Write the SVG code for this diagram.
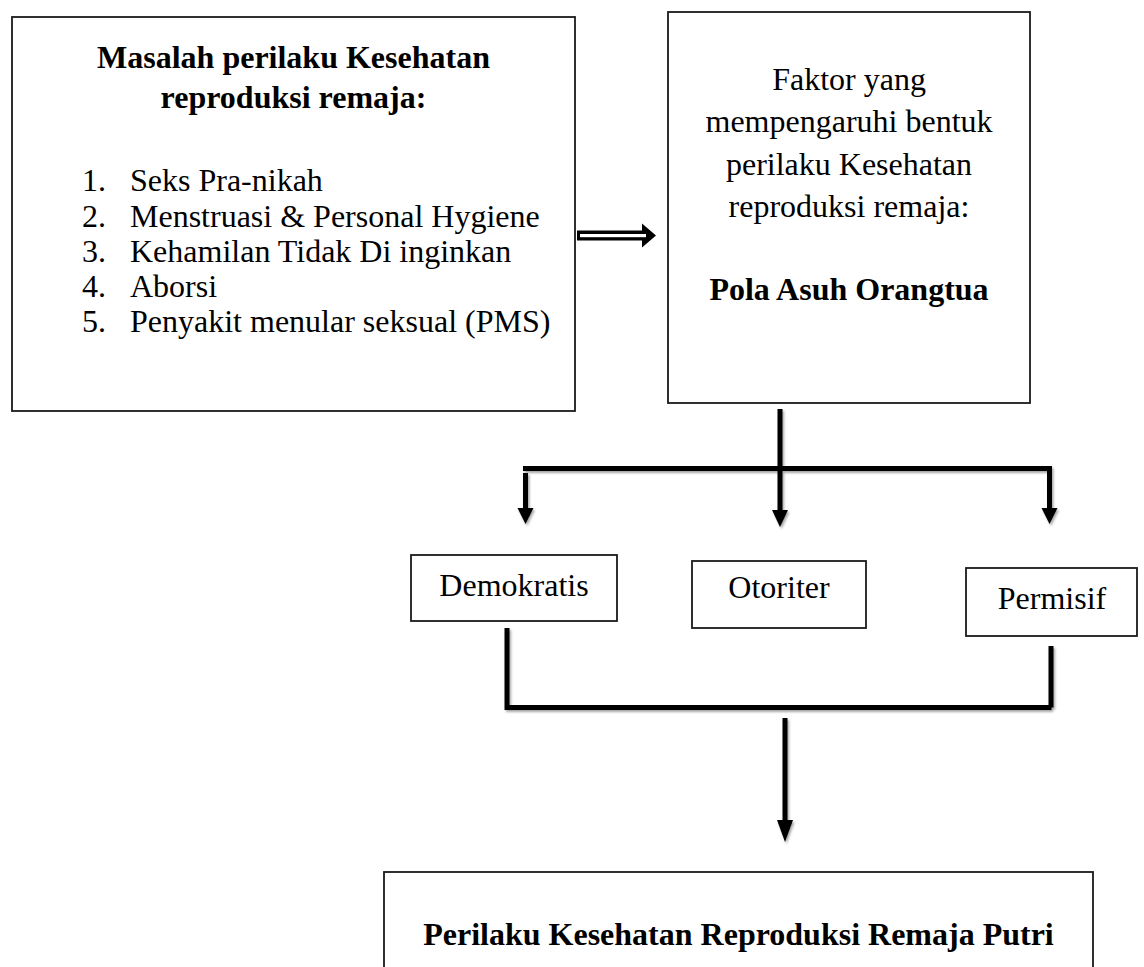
<svg xmlns="http://www.w3.org/2000/svg" width="1144" height="967" viewBox="0 0 1144 967">
<defs>
<filter id="sh" x="-20%" y="-20%" width="140%" height="140%">
<feDropShadow dx="1.5" dy="2" stdDeviation="1.2" flood-color="#000" flood-opacity="0.35"/>
</filter>
</defs>
<style>
.box{fill:#fff;stroke:#1a1a1a;stroke-width:1.8}
.t{font-family:"Liberation Serif","Times New Roman",serif;font-size:32px;fill:#000}
.b{font-weight:bold}
.c{text-anchor:middle}
.ln{stroke:#000;stroke-width:5;fill:none}
.hd{fill:#000}
</style>
<rect width="1144" height="967" fill="#fff"/>
<g id="masalah">
<rect class="box" x="12" y="17" width="563" height="394"/>
<text class="t b c" x="293.5" y="68">Masalah perilaku Kesehatan</text>
<text class="t b c" x="293.5" y="108">reproduksi remaja:</text>
<text class="t" x="82" y="191">1.</text><text class="t" x="130" y="191">Seks Pra-nikah</text>
<text class="t" x="82" y="227">2.</text><text class="t" x="130" y="227">Menstruasi &amp; Personal Hygiene</text>
<text class="t" x="82" y="262">3.</text><text class="t" x="130" y="262">Kehamilan Tidak Di inginkan</text>
<text class="t" x="82" y="297">4.</text><text class="t" x="130" y="297">Aborsi</text>
<text class="t" x="82" y="332">5.</text><text class="t" x="130" y="332">Penyakit menular seksual (PMS)</text>
</g>
<g id="faktor">
<rect class="box" x="668" y="12" width="362" height="391"/>
<text class="t c" x="849" y="90">Faktor yang</text>
<text class="t c" x="849" y="132">mempengaruhi bentuk</text>
<text class="t c" x="849" y="175">perilaku Kesehatan</text>
<text class="t c" x="849" y="217">reproduksi remaja:</text>
<text class="t b c" x="849" y="300">Pola Asuh Orangtua</text>
</g>
<g id="demokratis">
<rect class="box" x="411" y="555" width="206" height="66"/>
<text class="t c" x="514" y="596">Demokratis</text>
</g>
<g id="otoriter">
<rect class="box" x="692" y="561" width="174" height="67"/>
<text class="t c" x="779" y="598">Otoriter</text>
</g>
<g id="permisif">
<rect class="box" x="966" y="568" width="171" height="68"/>
<text class="t c" x="1052" y="609">Permisif</text>
</g>
<g id="perilaku">
<rect class="box" x="384" y="872" width="709" height="130"/>
<text class="t b c" x="738.5" y="945">Perilaku Kesehatan Reproduksi Remaja Putri</text>
</g>
<g id="connectors">
<g id="double-arrow">
<path d="M577 230.5 H642 V223.5 L656 235.5 L642 247.5 V240.5 H577 Z" fill="#000"/>
<rect x="580" y="234" width="66" height="3.2" fill="#fff"/>
</g>
<g filter="url(#sh)">
<path class="ln" d="M780 409 V510"/>
<path class="ln" d="M523 468.5 H1052"/>
<path class="ln" d="M525.5 473 V510"/>
<path class="hd" d="M517.5 508 H533.5 L525.5 524 Z"/>
<path class="hd" d="M772 510 H788 L780 527 Z"/>
<path class="ln" d="M1049.5 471 V510"/>
<path class="hd" d="M1041.5 508 H1057.5 L1049.5 524 Z"/>
<path class="ln" d="M507 628 V707.5 H1051.5"/>
<path class="ln" d="M1051 646 V707.5"/>
<path class="ln" d="M785 718 V822"/>
<path class="hd" d="M777 820 H793 L785 842 Z"/>
</g>
</g>
</svg>
